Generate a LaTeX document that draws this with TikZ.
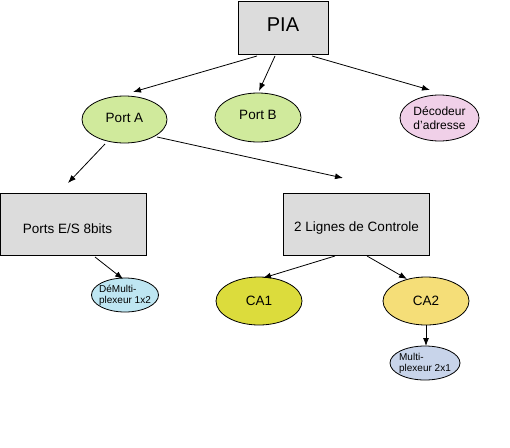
\documentclass[tikz,border=0pt]{standalone}
\usepackage{fontspec}
\setmainfont{Liberation Sans}
\usetikzlibrary{arrows.meta,shapes.geometric}
\definecolor{boxgray}{RGB}{220,220,220}
\definecolor{portgreen}{RGB}{208,234,156}
\definecolor{decpink}{RGB}{240,208,232}
\definecolor{dmblue}{RGB}{190,230,242}
\definecolor{caone}{RGB}{220,220,60}
\definecolor{catwo}{RGB}{245,222,120}
\definecolor{muxblue}{RGB}{200,212,234}
\begin{document}
\begin{tikzpicture}[x=1pt,y=-1pt,
  every node/.style={inner sep=0pt, outer sep=0pt},
  rbox/.style={draw, fill=boxgray, line width=0.8pt},
  ell/.style={draw, ellipse, line width=0.8pt},
  big/.style={font=\fontsize{13.5}{16}\selectfont},
  mid/.style={font=\fontsize{12}{14}\selectfont, align=center},
  small/.style={font=\fontsize{10}{11}\selectfont, align=left},
  arr/.style={draw, line width=0.8pt, -{Latex[length=8pt,width=6pt]}}]
\useasboundingbox (0,0) rectangle (510,447);

% shapes
\node[rbox, minimum width=90pt, minimum height=53pt] (pia) at (283,27.5) {};
\node[font=\fontsize{20}{24}\selectfont] (piatxt) at ([yshift=3pt]pia.center) {PIA};
\node[ell, fill=portgreen, minimum width=85pt, minimum height=47pt] (pa) at (124.5,119.5) {};
\node[big] (patxt) at ([yshift=2pt]pa.center) {Port A};
\node[ell, fill=portgreen, minimum width=86pt, minimum height=49pt] (pb) at (258,117.5) {};
\node[big] (pbtxt) at ([yshift=2.5pt]pb.center) {Port B};
\node[ell, fill=decpink, minimum width=79pt, minimum height=46pt] (dec) at (439.5,118) {};
\node[mid] (dectxt) at (dec) {Décodeur\\d'adresse};
\node[rbox, minimum width=146pt, minimum height=62pt] (pes) at (73.5,224) {};
\node[big] (pestxt) at ([xshift=-6pt,yshift=-4.5pt]pes.center) {Ports E/S 8bits};
\node[rbox, minimum width=146pt, minimum height=62pt] (lig) at (356,224) {};
\node[big] (ligtxt) at ([xshift=0.5pt,yshift=-4pt]lig.center) {2 Lignes de Controle};
\node[ell, fill=dmblue, minimum width=67pt, minimum height=34pt] (dem) at (125,295) {};
\node[small] (demtxt) at (dem) {DéMulti-\\plexeur 1x2};
\node[ell, fill=caone, minimum width=86pt, minimum height=48pt, big] (ca1) at (259,301) {CA1};
\node[ell, fill=catwo, minimum width=86pt, minimum height=48pt, big] (ca2) at (426,301) {CA2};
\node[ell, fill=muxblue, minimum width=70pt, minimum height=34pt] (mux) at (425,363) {};
\node[small] (muxtxt) at (mux) {Multi-\\plexeur 2x1};

% connectors
\draw[arr] ([xshift=-26pt,yshift=-2pt]pia.south) -- ([xshift=8.5pt,yshift=4pt]pa.north);
\draw[arr] ([xshift=-8pt,yshift=-2pt]pia.south) -- ([xshift=1pt,yshift=2pt]pb.north);
\draw[arr] ([xshift=29pt,yshift=-2pt]pia.south) -- ([xshift=-9.5pt,yshift=5pt]dec.north);
\draw[arr] ([xshift=-19.5pt,yshift=-1pt]pa.south) -- ([xshift=-5.5pt,yshift=10pt]pes.north);
\draw[arr] ([xshift=32.5pt,yshift=-17.5pt]pa.center) -- ([xshift=-13pt,yshift=15pt]lig.north);
\draw[arr] ([xshift=21.5pt,yshift=-2pt]pes.south) -- ([xshift=-2pt,yshift=-1pt]dem.north);
\draw[arr] ([xshift=-21pt,yshift=-1pt]lig.south) -- ([xshift=4pt,yshift=-1pt]ca1.north);
\draw[arr] ([xshift=11pt,yshift=-1pt]lig.south) -- ([xshift=-19pt,yshift=-2pt]ca2.north);
\draw[arr] (ca2.south) -- (ca2.south |- mux.north);
\end{tikzpicture}
\end{document}
